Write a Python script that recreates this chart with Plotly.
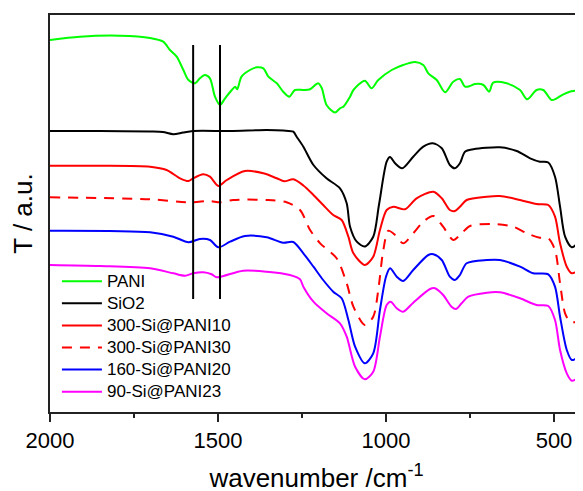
import plotly.graph_objects as go

# ---------------- data ----------------
wn_pani = [2000, 1911, 1792, 1702, 1663, 1643, 1623, 1603, 1588, 1568, 1554, 1539, 1524, 1509, 1494,
           1479, 1459, 1449, 1443, 1430, 1405, 1385, 1365, 1350, 1325, 1306, 1288, 1271, 1246, 1226,
           1202, 1191, 1177, 1152, 1137, 1127, 1107, 1097, 1063, 1043, 1023, 983, 949, 914, 889, 874,
           849, 824, 800, 780, 765, 750, 735, 710, 693, 681, 641, 601, 580, 552, 532, 507, 492, 472,
           443, 423, 413]
t_pani = [372, 375.3, 376.3, 374, 370.3, 362, 355.3, 342, 332, 328.7, 333.7, 337, 333.7, 315.3, 307,
          313.7, 322, 325.3, 322.7, 335.3, 342, 344.7, 343.7, 335.3, 328.7, 320.3, 315.3, 322, 322, 322.7,
          328.7, 323.7, 307, 299.5, 303.7, 305.3, 315.3, 322, 331.3, 323.7, 332, 342, 347, 350, 347, 338.7,
          332, 319.7, 330.3, 333, 325.3, 326, 328, 327, 320.3, 329.3, 328.7, 322, 312.7, 322, 322, 312, 313.7, 317.7,
          321, 320.3, 317]

wn_sio2 = [2000, 1851, 1702, 1664, 1633, 1604, 1574, 1464, 1355, 1306, 1276, 1266, 1246, 1216, 1177,
           1137, 1117, 1107, 1087, 1063, 1038, 1021, 998, 988, 973, 952, 919, 889, 861, 834, 810, 795,
           780, 765, 740, 661, 611, 571, 542, 517, 497, 482, 467, 447, 428, 414]
t_sio2 = [281, 281, 280.5, 280, 277.7, 279.5, 281, 281, 282, 281.5, 280.3, 275.3, 265.3, 247, 233.7,
          223.7, 208.7, 185.3, 170.3, 165.5, 175.3, 207, 250.3, 255, 248.7, 243.7, 255.3, 265.3, 268.7, 263.7, 247, 243.7,
          248.7, 260.3, 262.7, 264.7, 261, 253.7, 250.3, 249.5, 235.3, 205.3, 175.3, 164.7, 170.3, 182]

wn_s10 = [2000, 1851, 1702, 1653, 1613, 1588, 1574, 1544, 1524, 1499, 1474, 1420, 1365, 1325, 1303,
          1276, 1246, 1216, 1187, 1157, 1132, 1112, 1097, 1063, 1038, 1018, 998, 978, 944, 909, 859,
          834, 810, 795, 780, 760, 700, 661, 601, 552, 517, 497, 482, 462, 447, 428, 415]
t_s10 = [246.3, 246.3, 245.3, 242, 233.7, 231, 233.7, 237.7, 235.3, 226, 232, 241, 238.7, 233.7, 230.7,
         232.7, 226.5, 217, 207, 197, 192, 175.3, 158.7, 147, 155.3, 182, 202, 205.3, 202.7, 213.7, 220.3,
         213.7, 202, 201, 205.3, 212, 215.3, 216, 212, 208, 207, 195.3, 168.7, 145.3, 138.7, 142, 148.7]

wn_s30 = [2000, 1702, 1583, 1524, 1494, 1455, 1355, 1296, 1256, 1226, 1196, 1147, 1117, 1097, 1063,
          1038, 1023, 1008, 993, 973, 949, 919, 889, 859, 830, 800, 775, 750, 681, 621, 581, 542, 517,
          497, 482, 467, 452, 433, 418]
t_s30 = [214.7, 212.7, 209.7, 211, 209.7, 212, 212, 209.7, 202, 182, 168.7, 153.7, 128.7, 105.3, 87,
         95.3, 122, 162, 181.3, 177, 168.7, 178.7, 190.3, 196, 185.3, 172, 178.7, 186, 188, 185.3, 178.7, 174.3, 173.7,
         162, 128.7, 98.7, 90.3, 90.3, 102]

wn_s20 = [2000, 1702, 1633, 1588, 1554, 1524, 1499, 1464, 1420, 1355, 1306, 1276, 1246, 1216, 1187,
          1157, 1132, 1112, 1092, 1063, 1038, 1018, 1000, 988, 968, 949, 919, 874, 859, 834, 810, 795,
          780, 760, 700, 661, 601, 562, 517, 497, 482, 462, 447, 428, 415]
t_s20 = [181.3, 179.7, 175.3, 169.7, 173, 172, 164.7, 170.3, 176, 174.7, 169.3, 170, 158.7, 145.3, 132,
         120.3, 113.7, 92, 65.3, 48.7, 58.7, 102, 135.3, 143.7, 135.3, 131, 142, 157, 157.7, 152, 135.3, 132,
         137, 148.7, 152, 152, 145.3, 138.7, 137.7, 125.3, 95.3, 62, 52, 55.3, 64.7]

wn_s23 = [2000, 1851, 1702, 1633, 1598, 1574, 1544, 1519, 1504, 1484, 1425, 1355, 1286, 1256, 1246,
          1216, 1177, 1137, 1117, 1092, 1063, 1038, 1018, 998, 986, 968, 949, 919, 869, 854, 830, 805,
          792, 775, 755, 700, 661, 601, 552, 517, 497, 482, 462, 447, 428, 415]
t_s23 = [147, 146, 143.7, 138.7, 136.3, 138.7, 139.7, 137.7, 134.7, 136, 141.3, 140.3, 137, 132.7, 125.3,
         110.3, 98.7, 88.7, 75.3, 45.3, 32.7, 40.3, 75.3, 107, 110.3, 103.7, 100.3, 109.3, 123, 123.7, 117, 105.3,
         103, 108.7, 115.3, 119.3, 119.7, 113.7, 107, 106, 92, 62, 38.7, 31.3, 35.3, 43.7]

marker_wn = [1574, 1494]        # vertical guide lines
marker_t = [113, 367]           # their lower / upper ends

names = ["PANI", "SiO2", "300-Si@PANI10", "300-Si@PANI30", "160-Si@PANI20", "90-Si@PANI23"]
xs = [wn_pani, wn_sio2, wn_s10, wn_s30, wn_s20, wn_s23]
ys = [t_pani, t_sio2, t_s10, t_s30, t_s20, t_s23]
colors = ["#00FF00", "#000000", "#FF0000", "#FF0000", "#0000FF", "#FF00FF"]
dashes = ["solid", "solid", "solid", "10px,8px", "solid", "solid"]

x_ticks = [2000, 1500, 1000, 500]

# ---------------- figure ----------------
fig = go.Figure()
for n, x, y, c, d in zip(names, xs, ys, colors, dashes):
    fig.add_trace(go.Scatter(x=x, y=y, mode="lines",
                             name="<span style='font-size:17px'>%s</span>" % n,
                             line=dict(color=c, width=2, dash=d, shape="spline", smoothing=0.8)))

for w in marker_wn:
    fig.add_shape(type="line", xref="x", yref="y", x0=w, x1=w, y0=marker_t[0], y1=marker_t[1],
                  line=dict(color="black", width=2), layer="above")

font = "Liberation Sans, Arial, sans-serif"
fig.update_layout(
    width=583, height=491,
    margin=dict(l=42, r=8, t=7, b=87, autoexpand=False),
    paper_bgcolor="white", plot_bgcolor="white",
    font=dict(family=font, color="black"),
    showlegend=True,
    legend=dict(x=0.013, y=0.37, xanchor="left", yanchor="top",
                bgcolor="rgba(0,0,0,0)", font=dict(size=14.7, family=font),
                itemwidth=40, tracegroupgap=0),
    xaxis=dict(range=[2000, 413.7], tickvals=x_ticks, ticktext=[str(v) for v in x_ticks],
               ticks="outside", ticklen=8, tickwidth=1.5, tickcolor="#222",
               minor=dict(dtick=250, tick0=0, ticks="outside", ticklen=4, tickwidth=1.5, tickcolor="#222"),
               showline=True, linecolor="#222", linewidth=1.5, mirror=True,
               showgrid=False, zeroline=False, automargin=False,
               tickfont=dict(size=22, family=font),
               title=dict(text="wavenumber /cm<sup>-1</sup>", font=dict(size=26, family=font), standoff=17)),
    yaxis=dict(range=[0, 397], showticklabels=False, ticks="",
               showline=True, linecolor="#222", linewidth=1.5,
               showgrid=False, zeroline=False, automargin=False,
               title=dict(text="T / a.u.", font=dict(size=26, family=font), standoff=11)),
)

fig.write_html("out.html")
